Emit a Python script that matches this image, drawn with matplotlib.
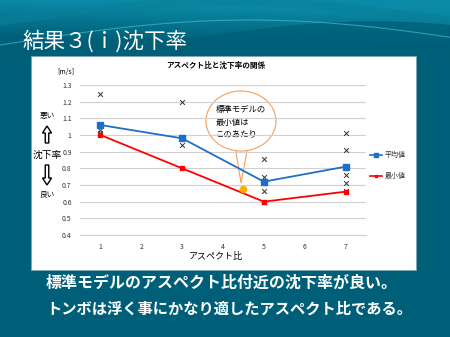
import numpy as np
import matplotlib.pyplot as plt
from matplotlib.patches import Ellipse, Polygon, FancyArrow, Rectangle

plt.rcParams['font.family'] = ['Noto Sans CJK JP', 'DejaVu Sans']

# data
aspect = [1, 3, 5, 7]
mean_rate = [1.06, 0.98, 0.72, 0.81]
min_rate = [1.00, 0.80, 0.60, 0.66]
trial_x = [1, 1, 1, 3, 3, 5, 5, 5, 5, 7, 7, 7, 7, 7]
trial_y = [1.245, 1.03, 1.01, 1.195, 0.94, 0.855, 0.75, 0.665, 0.60,
           1.01, 0.91, 0.76, 0.71, 0.665]
std_x, std_y = 4.5, 0.675
yticks = [0.4, 0.5, 0.6, 0.7, 0.8, 0.9, 1, 1.1, 1.2, 1.3]
xticks = [1, 2, 3, 4, 5, 6, 7]

W, H = 450, 337
fig = plt.figure(figsize=(W / 100, H / 100), dpi=100)
fig.patch.set_facecolor('#005f78')


def px(x, y, w, h):
    return [x / W, 1 - (y + h) / H, w / W, h / H]


# slide background with a wave at the top
bg = fig.add_axes([0, 0, 1, 1])
bg.set_xlim(0, W)
bg.set_ylim(H, 0)
bg.axis('off')
gx = np.linspace(0, 1, 200)
gy = np.linspace(0, 1, 120)
GX, GY = np.meshgrid(gx, gy)
grad = np.clip(1 - GY * 1.6 + 0.3 * GX, 0, 1)
bg.imshow(grad, extent=[0, W, 60, 0], cmap=plt.matplotlib.colors.LinearSegmentedColormap.from_list(
    'w', ['#005f78', '#0a8aa6']), aspect='auto', zorder=0)
t = np.linspace(0, W, 200)
bg.fill_between(t, 60, 40 + 18 * np.cos(t / W * np.pi * 1.2), color='#005f78', alpha=0.7, zorder=1)
bg.plot(t, 45 - 25 * np.sin(t / W * np.pi * 0.9), color='#4fc3d6', lw=0.8, alpha=0.6, zorder=2)
bg.plot(t, 30 - 28 * np.sin(t / W * np.pi * 0.8 + 0.3), color='#0b7f99', lw=6, alpha=0.6, zorder=2)
bg.add_patch(Rectangle((31, 56), 385, 214, facecolor='white', edgecolor='#7fa7b3', lw=0.6, zorder=3))

bg.text(22, 42, '結果３(ｉ)沈下率', color='white', fontsize=15.5, va='center', ha='left', zorder=4)
bg.text(46, 283, '標準モデルのアスペクト比付近の沈下率が良い。', color='white', fontsize=11.5,
        fontweight='bold', va='center', zorder=4)
bg.text(46, 309, 'トンボは浮く事にかなり適したアスペクト比である。', color='white', fontsize=11,
        fontweight='bold', va='center', zorder=4)

bg.text(216, 65, 'アスペクト比と沈下率の関係', fontsize=5.5, fontweight='bold', ha='center', va='center', zorder=4)
bg.text(66, 72, '[m/s]', fontsize=5, ha='center', va='center', zorder=4)
bg.text(216, 256, 'アスペクト比', fontsize=6.5, ha='center', va='center', zorder=4)

bg.text(47, 116, '悪い', fontsize=5.5, ha='center', va='center', zorder=4)
bg.text(47, 155, '沈下率', fontsize=7, ha='center', va='center', zorder=4)
bg.text(47, 194, '良い', fontsize=5.5, ha='center', va='center', zorder=4)
bg.add_patch(FancyArrow(47, 143, 0, -17, width=3.5, head_width=9, head_length=7,
                        length_includes_head=True,
                        facecolor='white', edgecolor='black', lw=1.0, zorder=4))
bg.add_patch(FancyArrow(47, 165, 0, 20, width=3.5, head_width=9, head_length=7,
                        length_includes_head=True,
                        facecolor='white', edgecolor='black', lw=1.0, zorder=4))

# legend drawn by hand
bg.plot([370, 382], [155, 155], color='#1f6fc5', lw=1.2, zorder=4)
bg.plot(376, 155, 's', color='#1f6fc5', ms=3, zorder=4)
bg.text(385, 155, '平均値', fontsize=5, va='center', color='#333333', zorder=4)
bg.plot([370, 382], [176, 176], color='red', lw=1.2, zorder=4)
bg.plot(376, 176, 's', color='red', ms=1.8, zorder=4)
bg.text(385, 176, '最小値', fontsize=5, va='center', color='#333333', zorder=4)

# chart
ax = fig.add_axes(px(80, 85, 286, 150))
ax.set_facecolor('none')
ax.set_xlim(0.5, 7.5)
ax.set_ylim(0.4, 1.3)
ax.set_yticks(yticks)
ax.set_yticklabels(['0.4', '0.5', '0.6', '0.7', '0.8', '0.9', '1', '1.1', '1.2', '1.3'])
ax.set_xticks(xticks)
ax.tick_params(labelsize=5, length=0, pad=6, colors='#333333')
ax.grid(axis='y', color='#d0d0d0', lw=0.8)
ax.set_axisbelow(True)
for s in ['top', 'right', 'left']:
    ax.spines[s].set_visible(False)
ax.spines['bottom'].set_color('#d0d0d0')

ax.scatter(trial_x, trial_y, marker='x', color='#333333', s=12, lw=0.7, zorder=3)
ax.plot(aspect, mean_rate, color='#1f6fc5', lw=1.3, marker='s', ms=4, zorder=4)
ax.plot(aspect, min_rate, color='red', lw=1.3, marker='s', ms=2.5, zorder=4)
ax.plot(std_x, std_y, 'o', color='#ffb000', ms=4.5, zorder=5)

# callout bubble
bg.add_patch(Polygon([[235, 146], [241, 183], [248, 146]], closed=True,
                     facecolor='white', edgecolor='#f5a05a', lw=0.8, zorder=5))
bg.add_patch(Ellipse((241, 121), 70, 60, facecolor='white', edgecolor='#f5a05a', lw=0.8, zorder=5))
bg.add_patch(Rectangle((234.5, 143), 14, 6, facecolor='white', edgecolor='none', zorder=6))
bg.text(241, 122, '標準モデルの\n最小値は\nこのあたり', fontsize=6, ha='center', va='center',
        multialignment='left', linespacing=1.45, zorder=7)

fig.savefig('out.png', dpi=100)
